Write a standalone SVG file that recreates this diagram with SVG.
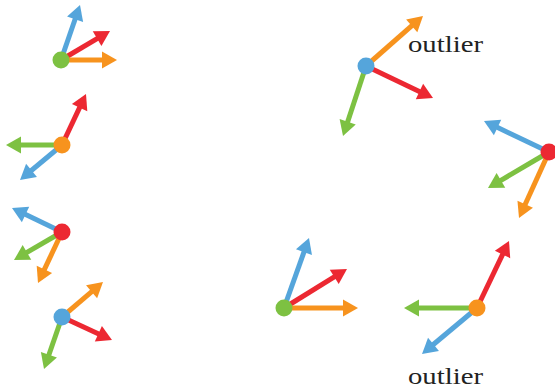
<svg xmlns="http://www.w3.org/2000/svg" width="555" height="390" viewBox="0 0 555 390">
  <style>
    .conn line { stroke-width: 5; fill: none; }
    .blue { stroke: #55A5DB; }
    .red { stroke: #EC2832; }
    .orange { stroke: #F7931E; }
    .green { stroke: #7DC142; }
    .b { marker-end: url(#ahBlue); }
    .r { marker-end: url(#ahRed); }
    .o { marker-end: url(#ahOrange); }
    .g { marker-end: url(#ahGreen); }
    .label { font-family: "Liberation Serif", "DejaVu Serif", serif; font-size: 23px; fill: #222; }
  </style>
  <defs>
    <marker id="ahBlue" markerUnits="userSpaceOnUse" markerWidth="20" markerHeight="20" refX="0" refY="0" orient="auto" overflow="visible">
      <path d="M-1,-8.5 L14,0 L-1,8.5 Z" fill="#55A5DB"/>
    </marker>
    <marker id="ahRed" markerUnits="userSpaceOnUse" markerWidth="20" markerHeight="20" refX="0" refY="0" orient="auto" overflow="visible">
      <path d="M-1,-8.5 L14,0 L-1,8.5 Z" fill="#EC2832"/>
    </marker>
    <marker id="ahOrange" markerUnits="userSpaceOnUse" markerWidth="20" markerHeight="20" refX="0" refY="0" orient="auto" overflow="visible">
      <path d="M-1,-8.5 L14,0 L-1,8.5 Z" fill="#F7931E"/>
    </marker>
    <marker id="ahGreen" markerUnits="userSpaceOnUse" markerWidth="20" markerHeight="20" refX="0" refY="0" orient="auto" overflow="visible">
      <path d="M-1,-8.5 L14,0 L-1,8.5 Z" fill="#7DC142"/>
    </marker>
  </defs>

  <g id="connectors" class="conn">
    <!-- left column, short vectors -->
    <line class="blue b" x1="61" y1="60" x2="75.43" y2="18.23"/>
    <line class="red r" x1="61" y1="60" x2="97.95" y2="38.13"/>
    <line class="orange o" x1="61" y1="60" x2="103" y2="60"/>

    <line class="red r" x1="62" y1="145" x2="80.04" y2="106.67"/>
    <line class="green g" x1="62" y1="145" x2="20" y2="145"/>
    <line class="blue b" x1="62" y1="145" x2="30.75" y2="171.04"/>

    <line class="blue b" x1="62" y1="232" x2="24.62" y2="214.06"/>
    <line class="green g" x1="62" y1="232" x2="26.09" y2="252.95"/>
    <line class="orange o" x1="62" y1="232" x2="43.96" y2="270.33"/>

    <line class="orange o" x1="62" y1="317" x2="92.35" y2="291.09"/>
    <line class="red r" x1="62" y1="317" x2="99.28" y2="334.15"/>
    <line class="green g" x1="62" y1="317" x2="48.58" y2="355.77"/>

    <!-- right group, long vectors -->
    <line class="orange o" x1="366" y1="66" x2="412.47" y2="25.23"/>
    <line class="red r" x1="366" y1="66" x2="420.37" y2="91.97"/>
    <line class="green g" x1="366" y1="66" x2="347.37" y2="122.70"/>

    <line class="blue b" x1="549" y1="152" x2="496.64" y2="127.03"/>
    <line class="green g" x1="549" y1="152" x2="500.06" y2="180.88"/>
    <line class="orange o" x1="549" y1="152" x2="524.79" y2="205.26"/>

    <line class="blue b" x1="284" y1="308" x2="304.29" y2="251.18"/>
    <line class="red r" x1="284" y1="308" x2="335.10" y2="276.37"/>
    <line class="orange o" x1="284" y1="308" x2="344" y2="308"/>

    <line class="red r" x1="477" y1="308" x2="502.97" y2="253.63"/>
    <line class="green g" x1="477" y1="308" x2="418" y2="308"/>
    <line class="blue b" x1="477" y1="308" x2="432.74" y2="345.02"/>
  </g>

  <g id="node-green-left"><circle cx="61" cy="60" r="8.5" fill="#7DC142"/></g>
  <g id="node-orange-left"><circle cx="62" cy="145" r="8.5" fill="#F7931E"/></g>
  <g id="node-red-left"><circle cx="62" cy="232" r="8.5" fill="#EC2832"/></g>
  <g id="node-blue-left"><circle cx="62" cy="317" r="8.5" fill="#55A5DB"/></g>

  <g id="node-blue-right"><circle cx="366" cy="66" r="8.5" fill="#55A5DB"/></g>
  <g id="node-red-right"><circle cx="549" cy="152" r="8.5" fill="#EC2832"/></g>
  <g id="node-green-right"><circle cx="284" cy="308" r="8.5" fill="#7DC142"/></g>
  <g id="node-orange-right"><circle cx="477" cy="308" r="8.5" fill="#F7931E"/></g>

  <g id="labels">
    <text class="label" x="408" y="52" textLength="75" lengthAdjust="spacingAndGlyphs">outlier</text>
    <text class="label" x="408" y="384" textLength="75" lengthAdjust="spacingAndGlyphs">outlier</text>
  </g>
</svg>
